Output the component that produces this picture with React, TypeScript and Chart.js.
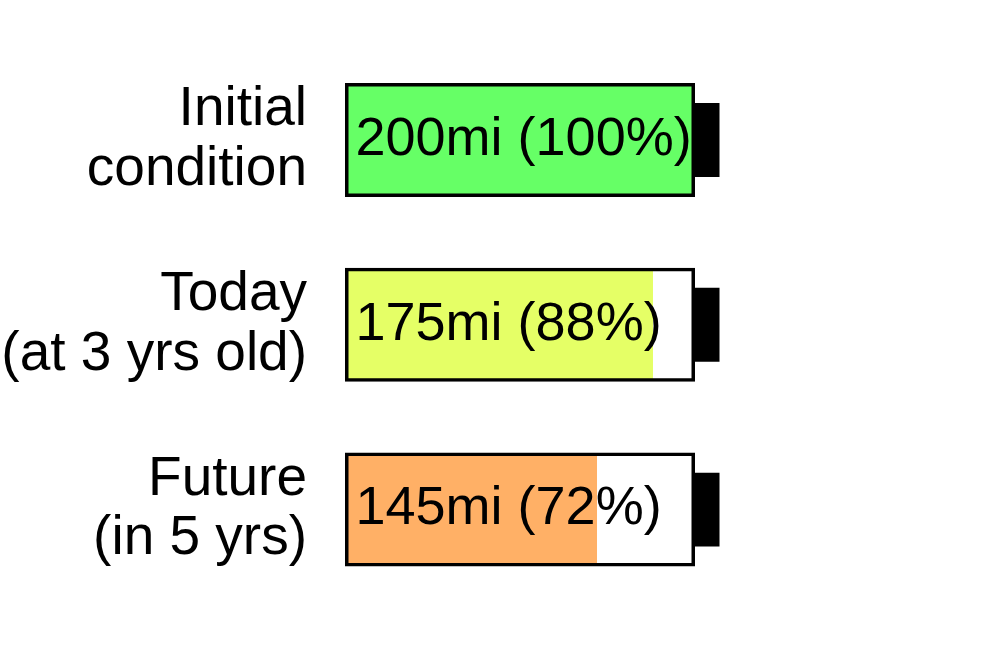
import React, { useEffect, useRef } from "react";
import { Chart, registerables } from "chart.js";

Chart.register(...registerables);

const categories: string[][] = [
  ["Initial", "condition"],
  ["Today", "(at 3 yrs old)"],
  ["Future", "(in 5 yrs)"],
];
const rangeMiles = [200, 175, 145];
const chargePercent = [100, 88, 72];
const fullCharge = [100, 100, 100];
const capStart = 100;
const capEnd = 107;
const fillColors = ["#66FF66", "#E5FF66", "#FFB066"];

const FONT = "'Liberation Sans', Arial, Helvetica, sans-serif";

const valueLabels = {
  id: "valueLabels",
  afterDatasetsDraw(chart: any) {
    const ctx = chart.ctx;
    const meta = chart.getDatasetMeta(2);
    const xScale = chart.scales.x;
    ctx.save();
    ctx.font = `54px ${FONT}`;
    ctx.fillStyle = "#000000";
    ctx.textAlign = "left";
    ctx.textBaseline = "middle";
    meta.data.forEach((el: any, i: number) => {
      const text = `${rangeMiles[i]}mi (${chargePercent[i]}%)`;
      ctx.fillText(text, xScale.getPixelForValue(3), el.y);
    });
    ctx.restore();
  },
};

export default function App() {
  const ref = useRef<HTMLCanvasElement | null>(null);

  useEffect(() => {
    if (!ref.current) return;
    const chart = new Chart(ref.current, {
      type: "bar",
      data: {
        labels: categories as any,
        datasets: [
          {
            label: "outline",
            data: fullCharge,
            backgroundColor: "rgba(0,0,0,0)",
            borderColor: "#000000",
            borderWidth: 3.5,
            borderSkipped: false,
            barPercentage: 0.617,
            categoryPercentage: 1,
            grouped: false,
          } as any,
          {
            label: "cap",
            data: fullCharge.map(() => [capStart, capEnd]),
            backgroundColor: "#000000",
            borderWidth: 0,
            barPercentage: 0.4,
            categoryPercentage: 1,
            grouped: false,
          } as any,
          {
            label: "charge",
            data: chargePercent,
            backgroundColor: fillColors,
            borderWidth: 0,
            barPercentage: 0.6,
            categoryPercentage: 1,
            grouped: false,
          } as any,
        ],
      },
      options: {
        indexAxis: "y",
        animation: false,
        responsive: false,
        maintainAspectRatio: false,
        layout: { padding: { top: 47.6, bottom: 48, left: 0, right: 25 } },
        plugins: {
          legend: { display: false },
          tooltip: { enabled: false },
        },
        scales: {
          x: {
            type: "linear",
            min: 0,
            max: 180,
            display: false,
          },
          y: {
            type: "category",
            grid: { display: false, drawTicks: false },
            border: { display: false },
            ticks: {
              color: "#000000",
              padding: 38,
              font: { family: FONT, size: 55, lineHeight: 1.08 },
            },
            afterFit: (scale: any) => {
              scale.width = 345;
              scale.paddingTop = 0;
              scale.paddingBottom = 0;
            },
          },
        },
      } as any,
      plugins: [valueLabels],
    });
    return () => chart.destroy();
  }, []);

  return (
    <div style={{ position: "absolute", left: 0, top: 0, width: 1000, height: 650, background: "#ffffff" }}>
      <canvas ref={ref} width={1000} height={650} />
    </div>
  );
}
